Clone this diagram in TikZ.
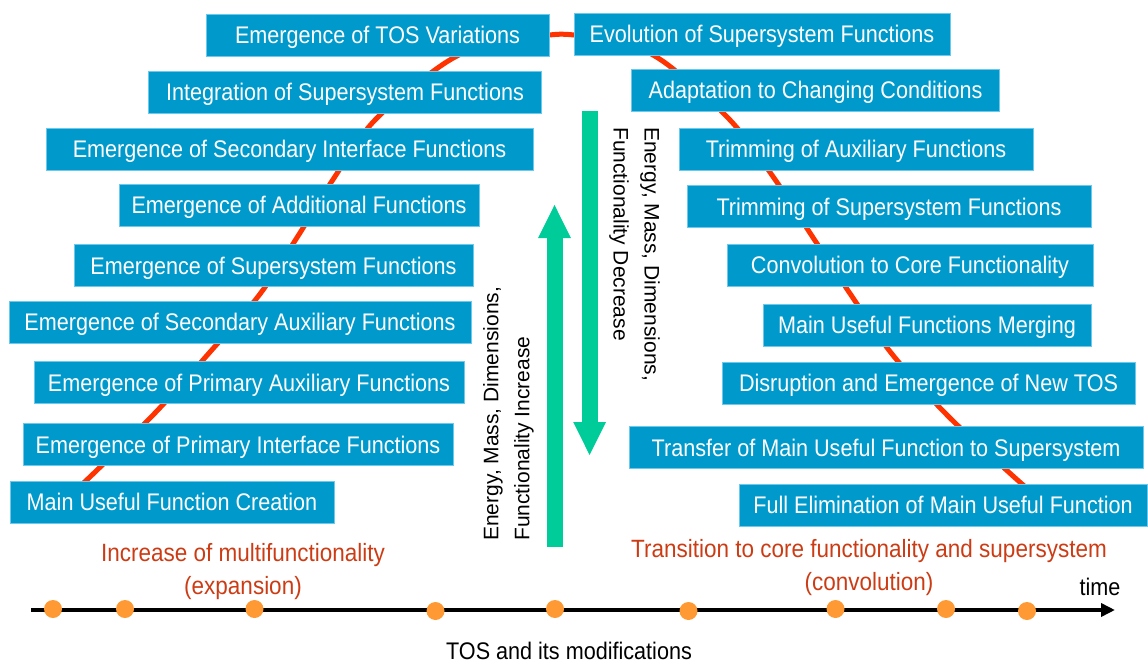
\documentclass[tikz,border=0pt]{standalone}
\usepackage{fontspec}
\setmainfont{Liberation Sans}
\newfontfamily\nf[FakeStretch=0.9]{Liberation Sans}
\usetikzlibrary{arrows.meta}
\definecolor{boxblue}{RGB}{0,153,204}
\definecolor{boxedge}{RGB}{110,200,235}
\definecolor{curvered}{RGB}{255,51,0}
\definecolor{arrowgreen}{RGB}{0,204,153}
\definecolor{labelred}{RGB}{204,60,20}
\definecolor{dotorange}{RGB}{255,153,51}
\begin{document}
\begin{tikzpicture}[x=1pt,y=-1pt,
  stagebox/.style={draw=boxedge, line width=0.8pt, fill=boxblue, text=white,
    font=\nf\fontsize{24}{28}\selectfont, minimum height=42pt, inner sep=0pt,
    text height=20pt, text depth=3pt, minimum width=#1},
  greenarrow/.style={draw=arrowgreen, line width=16pt, -{Triangle[length=34pt,width=30pt]}},
  sidetext/.style={font=\fontsize{21}{31}\selectfont, align=left, inner sep=0pt, text=black},
  phase/.style={font=\nf\fontsize{25}{33}\selectfont, align=center, text=labelred, inner sep=0pt},
  plain/.style={font=\nf\fontsize{24}{28}\selectfont, text=black, inner sep=0pt},
  tosdot/.style={circle, fill=dotorange, minimum size=18pt, inner sep=0pt},
  stagecurve/.style={draw=curvered, line width=5pt},
  timeline/.style={draw=black, line width=4.5pt, -{Triangle[length=14pt,width=13pt]}}
]
\useasboundingbox (0,0) rectangle (1148,663);

% red curve (behind boxes)
\draw[stagecurve] plot[smooth, tension=0.55] coordinates {
  (70,495) (93,474) (155,413) (210,352) (260,294) (298,236) (334,178) (375,120)
  (445,63) (495,42) (549,35) (574,35) (620,42) (664,62) (730,120) (774,178)
  (812,236) (851,295) (892,354) (948,416) (1013,476) (1035,495)};

% left boxes
\node[stagebox=343pt] (l1) at (377.5,35) {Emergence of TOS Variations};
\node[stagebox=393pt] (l2) at (345,92) {Integration of Supersystem Functions};
\node[stagebox=487pt] (l3) at (289.5,149.5) {Emergence of Secondary Interface Functions};
\node[stagebox=360pt] (l4) at (299,205.5) {Emergence of Additional Functions};
\node[stagebox=399pt] (l5) at (273.5,265.5) {Emergence of Supersystem Functions};
\node[stagebox=462pt] (l6) at (240,322) {Emergence of Secondary Auxiliary Functions};
\node[stagebox=430pt] (l7) at (249,382.5) {Emergence of Primary Auxiliary Functions};
\node[stagebox=430pt] (l8) at (238,444.5) {Emergence of Primary Interface Functions};
\node[stagebox=324pt] (l9) at (172,502) {Main Useful Function Creation};

% right boxes
\node[stagebox=376pt] (r1) at (762,34) {Evolution of Supersystem Functions};
\node[stagebox=368pt] (r2) at (815.6,90.5) {Adaptation to Changing Conditions};
\node[stagebox=354pt] (r3) at (856,149) {Trimming of Auxiliary Functions};
\node[stagebox=404pt] (r4) at (889,206.5) {Trimming of Supersystem Functions};
\node[stagebox=366pt] (r5) at (910,265) {Convolution to Core Functionality};
\node[stagebox=328pt] (r6) at (927,325) {Main Useful Functions Merging};
\node[stagebox=413pt] (r7) at (928.5,383) {Disruption and Emergence of New TOS};
\node[stagebox=514pt] (r8) at (886,447.5) {Transfer of Main Useful Function to Supersystem};
\node[stagebox=408pt] (r9) at (943,505) {Full Elimination of Main Useful Function};

% green arrows
\coordinate (upS) at (554.5,547);
\coordinate (upT) at (554.5,204);
\draw[greenarrow] (upS) -- (upT);
\coordinate (dnS) at (589.6,111);
\coordinate (dnT) at (589.6,456);
\draw[greenarrow] (dnS) -- (dnT);

% rotated labels
\node[sidetext, rotate=90, anchor=north west] (inc) at (483,541)
  {Energy, Mass, Dimensions,\\Functionality Increase};
\node[sidetext, rotate=-90, anchor=north west] (dec) at (660,127)
  {Energy, Mass, Dimensions,\\Functionality Decrease};

% phase labels
\node[phase] (expand) at (243,572) {Increase of multifunctionality\\(expansion)};
\node[phase] (convol) at (869,568) {Transition to core functionality and supersystem\\(convolution)};

% timeline
\coordinate (tl0) at (31,610);
\coordinate (tl1) at (1115,610);
\draw[timeline] (tl0) -- (tl1);
\node[tosdot] (d1) at (53,609) {};
\node[tosdot] (d2) at (125,609) {};
\node[tosdot] (d3) at (254.5,609) {};
\node[tosdot] (d4) at (435.5,611) {};
\node[tosdot] (d5) at (555,609) {};
\node[tosdot] (d6) at (688.5,611) {};
\node[tosdot] (d7) at (835.5,609) {};
\node[tosdot] (d8) at (946,609) {};
\node[tosdot] (d9) at (1027,611) {};
\node[plain] (time) at (1100,587) {time};
\node[plain] (tos) at (569,651) {TOS and its modifications};
\end{tikzpicture}
\end{document}
